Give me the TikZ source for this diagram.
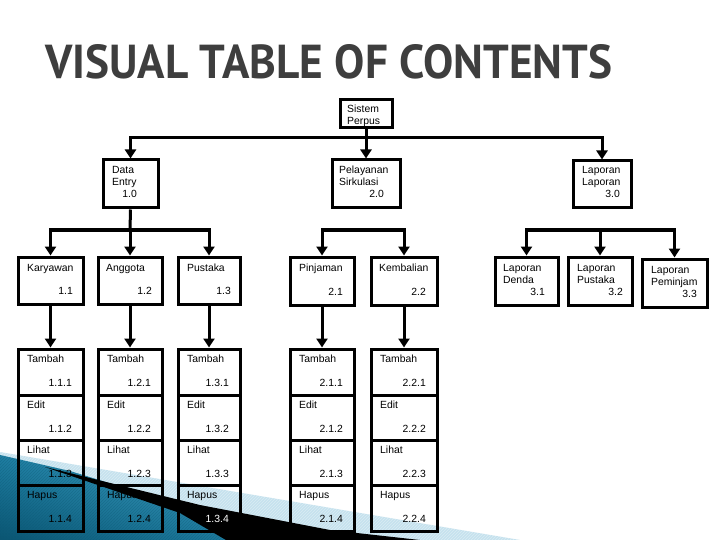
\documentclass[tikz,border=0pt]{standalone}
\usepackage{fontspec}
\setmainfont{Liberation Sans}
\newfontfamily\titlefont{PT Sans}
\usetikzlibrary{arrows.meta,patterns,shadings}
\definecolor{tealdark}{HTML}{0B5673}
\definecolor{tealmid}{HTML}{1F7FA3}
\definecolor{teallight}{HTML}{4AAFD2}
\definecolor{paleblue}{HTML}{C6E2EE}
\definecolor{titlegray}{HTML}{3E3E3E}
\newcount\tcnt
\newcommand\mkbox[5]{\node[bx, minimum width={(#4-#2)*1pt}, minimum height={(#5-#3)*1pt}] (#1) at ({(#2+#4)/2},{(#3+#5)/2}) {};}
\newcommand\txl[3]{\global\advance\tcnt by 1\relax\node[tx, anchor=base west] (t\the\tcnt) at (#1,#2) {#3};}
\newcommand\txr[4][black]{\global\advance\tcnt by 1\relax\node[tx, anchor=base east, text=#1] (t\the\tcnt) at (#2,#3) {#4};}
\newcommand\mkcol[5]{%
  \mkbox{#11}{#2}{349}{#3}{395}\mkbox{#12}{#2}{395}{#3}{440}%
  \mkbox{#13}{#2}{440}{#3}{485}\mkbox{#14}{#2}{485}{#3}{531}%
  \txl{#2+9}{362}{Tambah}\txr{#3-11}{386}{#4.1}%
  \txl{#2+9}{408}{Edit}\txr{#3-11}{432}{#4.2}%
  \txl{#2+9}{453}{Lihat}\txr{#3-11}{477}{#4.3}%
  \txl{#2+9}{498}{Hapus}\txr[#5]{#3-11}{522}{#4.4}%
}
\begin{document}
\begin{tikzpicture}[x=1pt,y=-1pt,
  bx/.style={draw=black, line width=3pt, inner sep=0pt, line join=miter},
  tx/.style={inner sep=0pt, font=\fontsize{10.4}{12}\selectfont},
  ln/.style={line width=3pt},
  ar/.style={line width=3pt, -{Triangle[width=11pt,length=9pt]}}]
\useasboundingbox (0,0) rectangle (720,540);
\fill[white] (0,0) rectangle (720,540);
% background decoration
\fill[paleblue] (0,452) -- (520,540) -- (0,540) -- cycle;
\fill[pattern=north east lines, pattern color=white, opacity=0.35] (0,452) -- (520,540) -- (0,540) -- cycle;
\shade[lower left=tealdark, upper right=teallight, lower right=tealmid, upper left=tealmid]
  (0,455) -- (70,471) -- (190,508) -- (260,540) -- (0,540) -- cycle;
\fill[pattern=north east lines, pattern color=tealdark, opacity=0.35]
  (0,455) -- (70,471) -- (190,508) -- (260,540) -- (0,540) -- cycle;
\fill[black] (45,467) -- (200,505) -- (330,530) -- (420,540) -- (226,540) -- (180,513) -- cycle;
% title
\node[anchor=base west, text=titlegray, inner sep=0pt] (title) at (45,79)
  {\resizebox{567pt}{34pt}{\titlefont\bfseries VISUAL TABLE OF CONTENTS}};
% level 0
\mkbox{sp}{340}{100}{392}{128}
\txl{347}{113}{Sistem}\txl{347}{124.5}{Perpus}
% level 1
\mkbox{de}{103}{160}{158}{208}
\txl{112}{174}{Data}\txl{112}{186}{Entry}\txr{137}{198}{1.0}
\mkbox{pel}{332}{160}{400}{208}
\txl{339}{174}{Pelayanan}\txl{339}{186}{Sirkulasi}\txr{384}{198}{2.0}
\mkbox{lap}{573}{161}{631}{208}
\txl{582}{174}{Laporan}\txl{582}{186}{Laporan}\txr{620}{198}{3.0}
% level 2
\mkbox{kar}{18}{257}{83}{304}
\txl{27}{271}{Karyawan}\txr{73}{294}{1.1}
\mkbox{ang}{98}{257}{162}{304}
\txl{106}{271}{Anggota}\txr{152}{294}{1.2}
\mkbox{pus}{178}{257}{240}{304}
\txl{187}{271}{Pustaka}\txr{231}{294}{1.3}
\mkbox{pin}{290}{257}{354}{305}
\txl{299}{271}{Pinjaman}\txr{343}{295}{2.1}
\mkbox{kem}{371}{257}{437}{305}
\txl{379}{271}{Kembalian}\txr{426}{295}{2.2}
\mkbox{ld}{495}{257}{558}{305}
\txl{503}{271}{Laporan}\txl{503}{283}{Denda}\txr{545}{295}{3.1}
\mkbox{lp}{568}{257}{632}{305}
\txl{577}{271}{Laporan}\txl{577}{283}{Pustaka}\txr{623}{295}{3.2}
\mkbox{lm}{642}{259}{707}{307}
\txl{651}{273}{Laporan}\txl{651}{285}{Peminjam}\txr{697}{297}{3.3}
% level 3
\mkcol{ca}{18}{83}{1.1}{black}
\mkcol{cb}{98}{162}{1.2}{black}
\mkcol{cc}{178}{240}{1.3}{white}
\mkcol{cd}{290}{354}{2.1}{black}
\mkcol{ce}{371}{437}{2.2}{black}
% connectors
\coordinate (j1) at (366,138);
\coordinate (j2) at (130,230);
\coordinate (j3) at (364,230);
\coordinate (j4) at (600,230);
\draw[ln] (sp.south) -- (j1);
\draw[ar] (j1) -| (de.north);
\draw[ar] (j1) -| (lap.north);
\draw[ar] (j1) -- (pel.north);
\draw[ln] (de.south) -- (j2);
\draw[ar] (j2) -| (kar.north);
\draw[ar] (j2) -- (ang.north);
\draw[ar] (j2) -| (pus.north);
\draw[ar] (j3) -| (pin.north);
\draw[ar] (j3) -| (kem.north);
\draw[ar] (j4) -| (ld.north);
\draw[ar] (j4) -- (lp.north);
\draw[ar] (j4) -| (lm.north);
\draw[ar] (kar.south) -- (ca1.north);
\draw[ar] (ang.south) -- (cb1.north);
\draw[ar] (pus.south) -- (cc1.north);
\draw[ar] (pin.south) -- (cd1.north);
\draw[ar] (kem.south) -- (ce1.north);
\end{tikzpicture}
\end{document}
